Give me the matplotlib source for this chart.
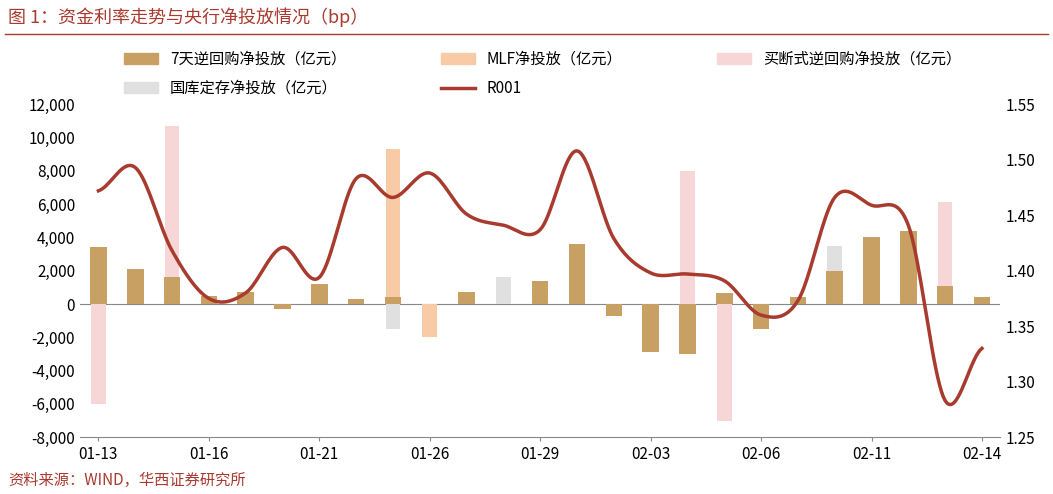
import numpy as np
import matplotlib.pyplot as plt
from matplotlib.lines import Line2D

plt.rcParams['font.family'] = ['Noto Sans CJK SC', 'DejaVu Sans']

dates = ['01-13', '01-14', '01-15', '01-16', '01-17', '01-20', '01-21', '01-22', '01-23',
         '01-26', '01-27', '01-28', '01-29', '01-30', '01-31', '02-03', '02-04', '02-05',
         '02-06', '02-07', '02-10', '02-11', '02-12', '02-13', '02-14']
tick_labels = ['01-13', '01-16', '01-21', '01-26', '01-29', '02-03', '02-06', '02-11', '02-14']
rr7 = [3400, 2100, 1600, 500, 750, -300, 1200, 300, 400, 0, 750, 0, 1400, 3600, -700,
       -2900, -3000, 650, -1500, 400, 2000, 4000, 4400, 1100, 400]
mlf = [0] * 25
mlf[8] = 9300
mlf[9] = -2000
outright = [0] * 25
outright[0] = -6000
outright[2] = 10700
outright[16] = 8000
outright[17] = -7000
outright[23] = 6100
treasury = [0] * 25
treasury[8] = -1500
treasury[11] = 1650
treasury[20] = 3500
r001 = [1.472, 1.493, 1.418, 1.375, 1.380, 1.421, 1.394, 1.483, 1.466, 1.488, 1.451,
        1.441, 1.437, 1.508, 1.429, 1.398, 1.397, 1.391, 1.360, 1.373, 1.466, 1.459,
        1.441, 1.283, 1.330]

c7 = '#C9A063'
cmlf = '#F8CBA6'
cout = '#F6D6D6'
ctre = '#E0E0E0'
cline = '#A83A2E'


def smooth(y, n=20):
    # catmull-rom curve through the read points
    p = np.concatenate([[y[0]], y, [y[-1]]])
    xs, ys = [], []
    for i in range(len(y) - 1):
        t = np.linspace(0, 1, n, endpoint=False)
        p0, p1, p2, p3 = p[i], p[i + 1], p[i + 2], p[i + 3]
        ys.extend(0.5 * (2 * p1 + (-p0 + p2) * t + (2 * p0 - 5 * p1 + 4 * p2 - p3) * t ** 2
                         + (-p0 + 3 * p1 - 3 * p2 + p3) * t ** 3))
        xs.extend(i + t)
    xs.append(len(y) - 1)
    ys.append(y[-1])
    return xs, ys


fig = plt.figure(figsize=(10.53, 4.94), dpi=100)
ax = fig.add_axes([0.076, 0.115, 0.874, 0.674])
x = np.arange(len(dates))
ax.bar(x, outright, width=0.4, color=cout, zorder=1)
ax.bar(x, treasury, width=0.4, color=ctre, zorder=1)
ax.bar(x, mlf, width=0.4, color=cmlf, zorder=2)
ax.bar(x, rr7, width=0.45, color=c7, zorder=3)
ax.set_ylim(-8000, 12000)
ax.set_yticks(range(-8000, 12001, 2000))
ax.set_yticklabels([f'{v:,}' for v in range(-8000, 12001, 2000)])
ax.set_xlim(-0.5, 24.5)
ax.set_xticks([dates.index(d) for d in tick_labels])
ax.set_xticklabels(tick_labels)
ax.axhline(0, color='#888888', lw=0.8, zorder=0)
for s in ['top', 'left', 'right']:
    ax.spines[s].set_visible(False)
ax.spines['bottom'].set_color('#888888')
ax.tick_params(axis='y', length=0, labelsize=11)
ax.tick_params(axis='x', labelsize=11, length=3, color='#888888')

ax2 = ax.twinx()
sx, sy = smooth(r001)
ax2.plot(sx, sy, color=cline, lw=2.5)
ax2.set_ylim(1.25, 1.55)
ax2.set_yticks(np.arange(1.25, 1.551, 0.05))
ax2.set_yticklabels([f'{v:.2f}' for v in np.arange(1.25, 1.551, 0.05)])
ax2.tick_params(axis='y', length=0, labelsize=11)
for s in ['top', 'left', 'right', 'bottom']:
    ax2.spines[s].set_visible(False)

handles = [plt.Rectangle((0, 0), 1, 1, color=c7), plt.Rectangle((0, 0), 1, 1, color=ctre),
           plt.Rectangle((0, 0), 1, 1, color=cmlf), Line2D([], [], color=cline, lw=2.5),
           plt.Rectangle((0, 0), 1, 1, color=cout)]
labels = ['7天逆回购净投放（亿元）', '国库定存净投放（亿元）', 'MLF净投放（亿元）', 'R001',
          '买断式逆回购净投放（亿元）']
fig.legend(handles, labels, ncol=3, loc='upper left', bbox_to_anchor=(0.105, 0.925),
           frameon=False, fontsize=11, handlelength=2.2, columnspacing=6.2, labelspacing=0.8)

fig.text(0.008, 0.965, '图 1：资金利率走势与央行净投放情况（bp）', color=cline, fontsize=13,
         va='center')
fig.add_artist(Line2D([0.005, 0.995], [0.932, 0.932], color=cline, lw=1))
fig.text(0.008, 0.028, '资料来源：WIND，华西证券研究所', color=cline, fontsize=11, va='center')

fig.savefig('out.png', dpi=100)
